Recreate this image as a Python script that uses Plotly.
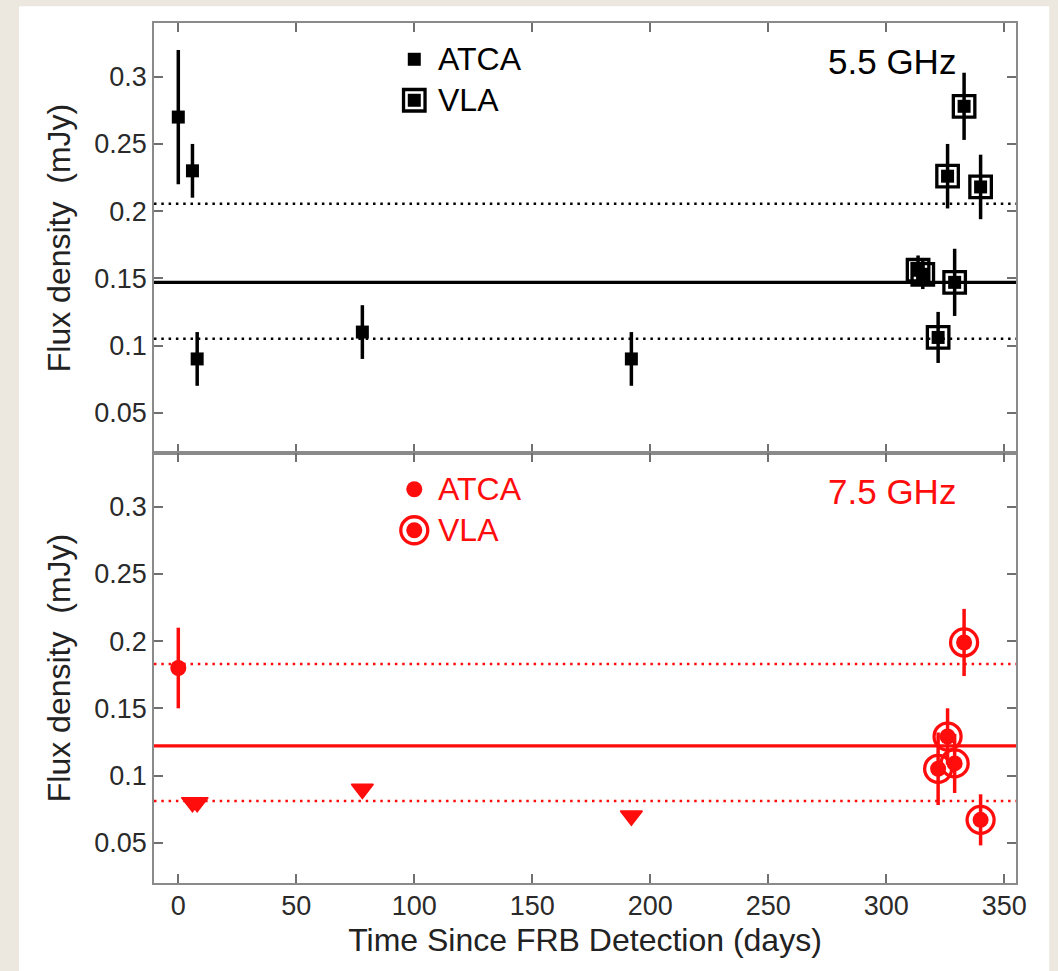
import plotly.graph_objects as go
from plotly.subplots import make_subplots

# ---------------- data ----------------
# 5.5 GHz
atca55_t = [0, 6, 8, 78, 192]
atca55_f = [0.27, 0.23, 0.09, 0.11, 0.09]
atca55_e = [0.05, 0.02, 0.02, 0.02, 0.02]
vla55_t = [313.5, 315.5, 322, 326, 329, 333, 340]
vla55_f = [0.156, 0.153, 0.106, 0.226, 0.147, 0.278, 0.218]
vla55_e = [0.011, 0.011, 0.019, 0.024, 0.025, 0.025, 0.024]
mean55 = 0.147
band55 = [0.105, 0.2055]

# 7.5 GHz
atca75_t = [0]
atca75_f = [0.18]
atca75_e = [0.03]
lim75_t = [6, 8, 78, 192]
lim75_f = [0.08, 0.08, 0.09, 0.07]
vla75_t = [322, 326, 329, 333, 340]
vla75_f = [0.105, 0.129, 0.109, 0.199, 0.067]
vla75_e = [0.027, 0.021, 0.022, 0.025, 0.019]
mean75 = 0.122
band75 = [0.081, 0.183]

# legend / labels
legend_x = [100]
legend_y_atca = [0.313]
legend_y_vla = [0.2825]
legend_text_x = 109
band_labels = ["5.5 GHz", "7.5 GHz"]
band_label_pos = (302.5, 0.311)
x_ticks = [0, 50, 100, 150, 200, 250, 300, 350]
y_ticks = [0.05, 0.1, 0.15, 0.2, 0.25, 0.3]
x_range = [-10.3, 355]
y_range = [0.02, 0.34]

BLACK = "#000000"
RED = "#ff0d0d"
FONT = "Liberation Sans, Arial, sans-serif"

fig = make_subplots(rows=2, cols=1, shared_xaxes=True, vertical_spacing=0)

# white page panel (first so it sits beneath everything else)
fig.add_shape(type="rect", xref="paper", yref="paper",
              x0=-0.1566, x1=1.0385, y0=-0.12, y1=1.0195,
              fillcolor="white", line=dict(width=0), layer="below")

# ---------- horizontal reference lines ----------
def hline(y, yref, xref, color, dash, width):
    fig.add_shape(type="line", xref=xref, yref=yref, x0=0, x1=1, y0=y, y1=y,
                  line=dict(color=color, width=width, dash=dash), layer="below")

hline(mean55, "y", "x domain", BLACK, "solid", 3.2)
for b in band55:
    hline(b, "y", "x domain", BLACK, "2.5px,4.8px", 2.5)
hline(mean75, "y2", "x2 domain", RED, "solid", 3.2)
for b in band75:
    hline(b, "y2", "x2 domain", RED, "2.5px,4.8px", 2.5)

# ---------- top panel (5.5 GHz) ----------
fig.add_trace(go.Scatter(
    x=atca55_t, y=atca55_f, mode="markers",
    marker=dict(symbol="square", size=13, color=BLACK, line=dict(width=0)),
    error_y=dict(type="data", array=atca55_e, color=BLACK, thickness=3.5, width=0),
    showlegend=False), row=1, col=1)
fig.add_trace(go.Scatter(
    x=vla55_t, y=vla55_f, mode="markers",
    marker=dict(symbol="square", size=13, color=BLACK, line=dict(width=0)),
    error_y=dict(type="data", array=vla55_e, color=BLACK, thickness=3.5, width=0),
    showlegend=False), row=1, col=1)
fig.add_trace(go.Scatter(
    x=vla55_t, y=vla55_f, mode="markers",
    marker=dict(symbol="square-open", size=21.5, color=BLACK, line=dict(width=3.3, color=BLACK)),
    showlegend=False), row=1, col=1)
# legend markers
fig.add_trace(go.Scatter(
    x=legend_x, y=legend_y_atca, mode="markers",
    marker=dict(symbol="square", size=13, color=BLACK), showlegend=False), row=1, col=1)
fig.add_trace(go.Scatter(
    x=legend_x, y=legend_y_vla, mode="markers",
    marker=dict(symbol="square", size=13, color=BLACK), showlegend=False), row=1, col=1)
fig.add_trace(go.Scatter(
    x=legend_x, y=legend_y_vla, mode="markers",
    marker=dict(symbol="square-open", size=21.5, color=BLACK, line=dict(width=3.3, color=BLACK)),
    showlegend=False), row=1, col=1)

# ---------- bottom panel (7.5 GHz) ----------
fig.add_trace(go.Scatter(
    x=atca75_t, y=atca75_f, mode="markers",
    marker=dict(symbol="circle", size=16, color=RED, line=dict(width=0)),
    error_y=dict(type="data", array=atca75_e, color=RED, thickness=3.5, width=0),
    showlegend=False), row=2, col=1)
fig.add_trace(go.Scatter(
    x=lim75_t, y=lim75_f, mode="markers",
    marker=dict(symbol="triangle-down", size=19, color=RED, line=dict(width=1.5, color=RED)),
    showlegend=False), row=2, col=1)
fig.add_trace(go.Scatter(
    x=vla75_t, y=vla75_f, mode="markers",
    marker=dict(symbol="circle", size=16, color=RED, line=dict(width=0)),
    error_y=dict(type="data", array=vla75_e, color=RED, thickness=3.5, width=0),
    showlegend=False), row=2, col=1)
fig.add_trace(go.Scatter(
    x=vla75_t, y=vla75_f, mode="markers",
    marker=dict(symbol="circle-open", size=27, color=RED, line=dict(width=3.3, color=RED)),
    showlegend=False), row=2, col=1)
fig.add_trace(go.Scatter(
    x=legend_x, y=legend_y_atca, mode="markers",
    marker=dict(symbol="circle", size=16, color=RED), showlegend=False), row=2, col=1)
fig.add_trace(go.Scatter(
    x=legend_x, y=legend_y_vla, mode="markers",
    marker=dict(symbol="circle", size=16, color=RED), showlegend=False), row=2, col=1)
fig.add_trace(go.Scatter(
    x=legend_x, y=legend_y_vla, mode="markers",
    marker=dict(symbol="circle-open", size=27, color=RED, line=dict(width=3.3, color=RED)),
    showlegend=False), row=2, col=1)

# ---------- annotations ----------
LEG_SIZE = 32
ann = []
ann.append(dict(x=legend_text_x, y=legend_y_atca[0], xref="x", yref="y", text="ATCA",
                showarrow=False, xanchor="left", yanchor="middle",
                font=dict(family=FONT, size=LEG_SIZE, color=BLACK)))
ann.append(dict(x=legend_text_x, y=legend_y_vla[0], xref="x", yref="y", text="VLA",
                showarrow=False, xanchor="left", yanchor="middle",
                font=dict(family=FONT, size=LEG_SIZE, color=BLACK)))
ann.append(dict(x=legend_text_x, y=legend_y_atca[0], xref="x2", yref="y2", text="ATCA",
                showarrow=False, xanchor="left", yanchor="middle",
                font=dict(family=FONT, size=LEG_SIZE, color=RED)))
ann.append(dict(x=legend_text_x, y=legend_y_vla[0], xref="x2", yref="y2", text="VLA",
                showarrow=False, xanchor="left", yanchor="middle",
                font=dict(family=FONT, size=LEG_SIZE, color=RED)))
ann.append(dict(x=band_label_pos[0], y=band_label_pos[1], xref="x", yref="y", text=band_labels[0],
                showarrow=False, xanchor="center", yanchor="middle",
                font=dict(family=FONT, size=35, color=BLACK)))
ann.append(dict(x=band_label_pos[0], y=band_label_pos[1], xref="x2", yref="y2", text=band_labels[1],
                showarrow=False, xanchor="center", yanchor="middle",
                font=dict(family=FONT, size=35, color=RED)))

axis_common = dict(showline=True, linecolor="#8a8a8a", linewidth=1.6, mirror="ticks",
                   ticks="inside", ticklen=9, tickwidth=1.5, tickcolor="#707070",
                   showgrid=False, zeroline=False,
                   tickfont=dict(family=FONT, size=27, color="#2a2a2a"))

fig.update_xaxes(range=x_range, tickvals=x_ticks, **axis_common)
fig.update_xaxes(showticklabels=False, row=1, col=1)
fig.update_xaxes(title=dict(text="Time Since FRB Detection (days)", standoff=8,
                            font=dict(family=FONT, size=32, color="#222222")),
                 ticklabelstandoff=-2, row=2, col=1)
fig.update_yaxes(range=y_range, tickvals=y_ticks, ticklabelstandoff=0, **axis_common)
for r in (1, 2):
    fig.update_yaxes(title=dict(text="Flux density \u00a0(mJy)", standoff=14,
                                font=dict(family=FONT, size=32, color="#222222")),
                     row=r, col=1)

fig.update_layout(
    width=1058, height=971,
    margin=dict(l=154, r=42, t=23, b=88, autoexpand=False),
    paper_bgcolor="#ece8df",
    plot_bgcolor="white",
    annotations=ann,
    showlegend=False,
)

fig.write_html("out.html")
